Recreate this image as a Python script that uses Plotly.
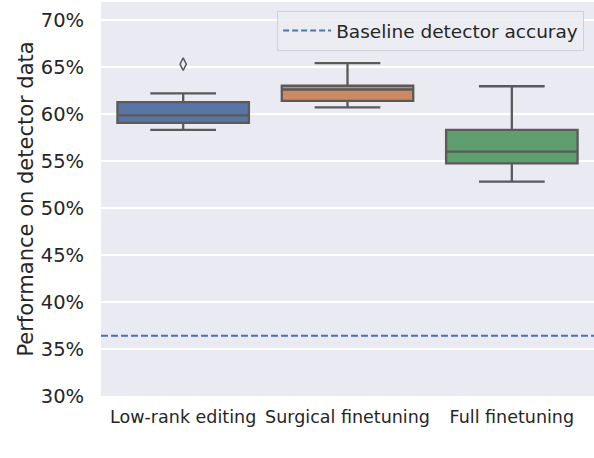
import plotly.graph_objects as go

# box statistics (percent)
methods = ["Low-rank editing", "Surgical finetuning", "Full finetuning"]
lower_whisker = [58.3, 60.7, 52.8]
q1 = [59.05, 61.4, 54.75]
median = [59.85, 62.6, 56.0]
q3 = [61.25, 63.0, 58.3]
upper_whisker = [62.2, 65.4, 62.95]
box_colors = ["#5875a4", "#cc8963", "#5f9e6e"]

outlier_method = ["Low-rank editing"]
outlier_value = [65.3]

baseline = 36.4
y_ticks = [30, 35, 40, 45, 50, 55, 60, 65, 70]
y_tick_labels = [f"{v}%" for v in y_ticks]

edge = "#5a5a5a"
font = "DejaVu Sans"

fig = go.Figure()
for i, m in enumerate(methods):
    fig.add_trace(go.Box(
        x=[m], q1=[q1[i]], median=[median[i]], q3=[q3[i]],
        lowerfence=[lower_whisker[i]], upperfence=[upper_whisker[i]],
        fillcolor=box_colors[i], line=dict(color=edge, width=2.3),
        width=0.8, whiskerwidth=0.5, boxpoints=False, showlegend=False,
    ))

fig.add_trace(go.Scatter(
    x=outlier_method, y=outlier_value, mode="markers",
    marker=dict(symbol="diamond-tall-open", size=9, color=edge, line=dict(width=1.5, color=edge)),
    showlegend=False,
))

fig.add_hline(y=baseline, line=dict(color="#4c72b0", width=2, dash="7px,3px"))
# legend entry for the baseline
fig.add_trace(go.Scatter(
    x=[None], y=[None], mode="lines", name="Baseline detector accuray",
    line=dict(color="#4c72b0", width=2, dash="6px,3px"),
))

fig.update_layout(
    width=594, height=458,
    margin=dict(l=101, r=0, t=2, b=62),
    plot_bgcolor="#eaeaf2", paper_bgcolor="white",
    font=dict(family=font, color="#262626"),
    boxmode="overlay",
    legend=dict(
        x=0.98, y=0.977, xanchor="right", yanchor="top",
        bgcolor="rgba(236,236,243,0.9)", bordercolor="#d0d0d8", borderwidth=1,
        font=dict(size=18.5, family=font, color="#262626"),
        itemwidth=48,
    ),
)
fig.update_xaxes(
    type="category", categoryorder="array", categoryarray=methods,
    range=[-0.5, 2.5], showgrid=False, zeroline=False,
    ticks="outside", ticklen=5, tickcolor="rgba(0,0,0,0)",
    tickfont=dict(size=17.5, family=font, color="#262626"),
)
fig.update_yaxes(
    range=[30, 71.91], tickvals=y_ticks, ticktext=y_tick_labels,
    showgrid=True, gridcolor="white", gridwidth=1.5, zeroline=False,
    ticks="outside", ticklen=12, tickcolor="rgba(0,0,0,0)",
    tickfont=dict(size=19.5, family=font, color="#262626"),
    title=dict(text="Performance on detector data", standoff=1,
               font=dict(size=21, family=font, color="#262626")),
)

fig.write_html(
    "out.html",
    config={"responsive": False, "displayModeBar": False},
    post_script="document.body.style.margin='0';document.body.style.overflow='hidden';",
)
